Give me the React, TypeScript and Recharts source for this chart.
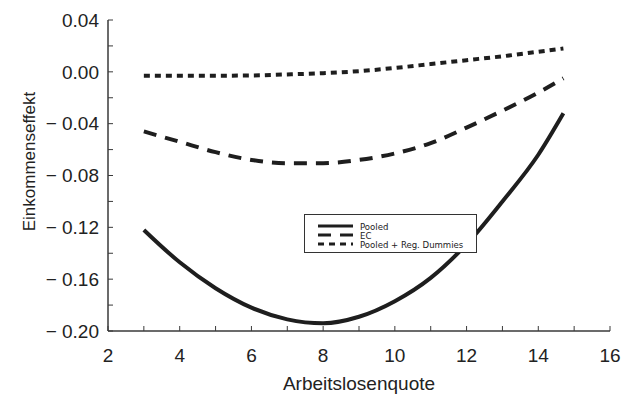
import { LineChart, Line, XAxis, YAxis, Legend } from "recharts";

// Arbeitslosenquote (x) and the three estimated income effects
const quote = [3, 4, 5, 6, 7, 8, 9, 10, 11, 12, 13, 14, 14.7];
const pooled = [-0.122, -0.147, -0.167, -0.182, -0.191, -0.194, -0.189, -0.177, -0.159, -0.133, -0.1, -0.064, -0.032];
const ec = [-0.046, -0.054, -0.062, -0.068, -0.0705, -0.0705, -0.068, -0.063, -0.055, -0.043, -0.03, -0.016, -0.005];
const dummies = [-0.003, -0.003, -0.003, -0.0028, -0.002, -0.001, 0.0005, 0.003, 0.006, 0.009, 0.012, 0.0155, 0.018];

const xTicks = [2, 3, 4, 5, 6, 7, 8, 9, 10, 11, 12, 13, 14, 15, 16];
const yTicks = [0.04, 0.02, 0, -0.02, -0.04, -0.06, -0.08, -0.1, -0.12, -0.14, -0.16, -0.18, -0.2];

const series = [
  { key: "pooled", name: "Pooled", dash: undefined },
  { key: "ec", name: "EC", dash: "13 9" },
  { key: "dummies", name: "Pooled + Reg. Dummies", dash: "6 5" },
];

const data = quote.map((q, i) => ({
  quote: q,
  pooled: pooled[i],
  ec: ec[i],
  dummies: dummies[i],
}));

const FONT = "'Liberation Sans', Arial, Helvetica, sans-serif";
const NARROW = "'Liberation Sans Narrow', 'Arial Narrow', 'DejaVu Sans Condensed', sans-serif";
const INK = "#1e1e1e";
const FRAME = "#3a3a3a";
const frameLine = { stroke: FRAME, strokeWidth: 1.5 };

const fmtX = (v: number) => (v % 2 === 0 ? String(v) : "");
const fmtY = (v: number) => {
  const n = Math.round(v * 100);
  if (n % 4 !== 0) return "";
  if (n === 0) return "0.00";
  return n < 0 ? "\u2212 " + Math.abs(v).toFixed(2) : v.toFixed(2);
};

const YTitle = ({ viewBox }: any) => {
  const cx = viewBox.x + 29;
  const cy = viewBox.y + viewBox.height / 2 - 14;
  return (
    <text
      x={cx}
      y={cy}
      transform={`rotate(-90, ${cx}, ${cy})`}
      textAnchor="middle"
      dominantBaseline="central"
      fontSize={17}
      fontFamily={FONT}
      fill="#222"
    >
      Einkommenseffekt
    </text>
  );
};

const XTitle = ({ viewBox }: any) => (
  <text
    x={viewBox.x + viewBox.width / 2}
    y={viewBox.y + viewBox.height - 5}
    textAnchor="middle"
    fontSize={19}
    fontFamily={FONT}
    fill="#222"
  >
    Arbeitslosenquote
  </text>
);

const LegendBox = () => (
  <div
    style={{
      width: 171,
      height: 37,
      border: "1px solid #333",
      background: "#fff",
      boxSizing: "content-box",
    }}
  >
    <svg width={171} height={37} style={{ display: "block" }}>
      {series.map((s, i) => {
        const y = [11, 20, 29][i];
        return (
          <g key={s.key}>
            <line x1={13} x2={48} y1={y} y2={y} stroke={INK} strokeWidth={3} strokeDasharray={s.dash} />
            <text x={55} y={y} dominantBaseline="central" fontSize={9.5} fontFamily={NARROW} fill="#222">
              {s.name}
            </text>
          </g>
        );
      })}
    </svg>
  </div>
);

export default function App() {
  return (
    <div style={{ width: 637, height: 395, background: "#fff" }}>
      <style>{"body{margin:0}"}</style>
      <LineChart width={637} height={395} data={data} margin={{ top: 20, right: 27, bottom: 0, left: 0 }}>
        <XAxis
          dataKey="quote"
          type="number"
          domain={[2, 16]}
          ticks={xTicks}
          interval={0}
          tickFormatter={fmtX}
          height={64}
          tickSize={-5}
          tickMargin={22.5}
          axisLine={frameLine}
          tickLine={{ stroke: FRAME }}
          tick={{ fontSize: 19, fontFamily: FONT, fill: "#222" }}
          label={<XTitle />}
        />
        <XAxis
          xAxisId="top"
          orientation="top"
          dataKey="quote"
          type="number"
          domain={[2, 16]}
          ticks={xTicks}
          interval={0}
          height={0}
          tickSize={-5}
          tick={false}
          axisLine={frameLine}
          tickLine={{ stroke: FRAME }}
        />
        <YAxis
          type="number"
          domain={[-0.2, 0.04]}
          ticks={yTicks}
          interval={0}
          tickFormatter={fmtY}
          width={108}
          tickSize={-5}
          tickMargin={14}
          axisLine={frameLine}
          tickLine={{ stroke: FRAME }}
          tick={{ fontSize: 19, fontFamily: FONT, fill: "#222" }}
          label={<YTitle />}
        />
        <YAxis
          yAxisId="right"
          orientation="right"
          type="number"
          domain={[-0.2, 0.04]}
          ticks={yTicks}
          interval={0}
          width={0}
          tickSize={-5}
          tick={false}
          axisLine={frameLine}
          tickLine={{ stroke: FRAME }}
        />
        <Legend
          layout="vertical"
          align="center"
          verticalAlign="middle"
          content={<LegendBox />}
          wrapperStyle={{ left: 304, top: 214, width: 173, height: 39 }}
        />
        {series.map((s) => (
          <Line
            key={s.key}
            dataKey={s.key}
            name={s.name}
            type="monotone"
            stroke={INK}
            strokeWidth={4}
            strokeDasharray={s.dash}
            dot={false}
            activeDot={false}
            isAnimationActive={false}
          />
        ))}
      </LineChart>
    </div>
  );
}
